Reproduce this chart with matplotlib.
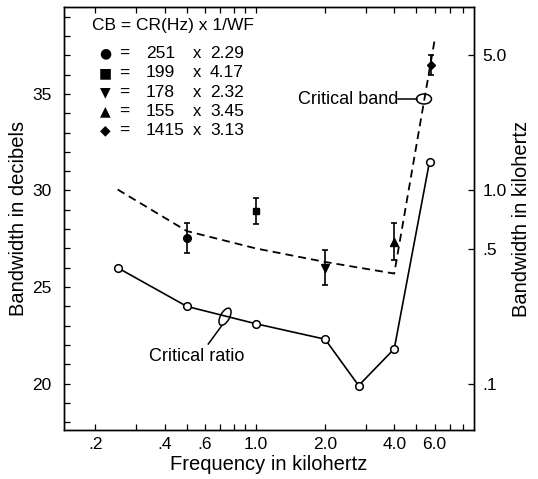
import matplotlib
matplotlib.use("Agg")
import matplotlib.pyplot as plt
from matplotlib.patches import Ellipse
from matplotlib.ticker import FixedLocator, NullFormatter, NullLocator

plt.rcParams['font.family'] = ['Liberation Sans', 'DejaVu Sans']

# critical ratio (open circles), dB
cr_freq = [0.25, 0.5, 1.0, 2.0, 2.8, 4.0, 5.7]
cr_db = [26.0, 24.0, 23.1, 22.3, 19.9, 21.8, 31.5]

# critical band (dashed), dB
cb_freq = [0.25, 0.5, 1.0, 2.0, 4.0, 6.0]
cb_db = [30.05, 27.9, 27.0, 26.3, 25.7, 37.8]

# measured points with error bars
pt_freq = [0.5, 1.0, 2.0, 4.0, 5.8]
pt_db = [27.55, 28.95, 26.0, 27.35, 36.5]
pt_err = [0.78, 0.67, 0.9, 0.95, 0.5]
pt_marker = ['o', 's', 'v', '^', 'D']
pt_size = [5.5, 5, 6, 6, 4.5]

legend_sym = ['\u25cf', '\u25a0', '\u25bc', '\u25b2', '\u25c6']
legend_cr = ['251', '199', '178', '155', '1415']
legend_wf = ['2.29', '4.17', '2.32', '3.45', '3.13']

x_major = [0.2, 0.4, 0.6, 1.0, 2.0, 4.0, 6.0]
x_major_lbl = ['.2', '.4', '.6', '1.0', '2.0', '4.0', '6.0']
x_minor = [0.3, 0.5, 0.7, 0.8, 0.9, 3.0, 5.0, 7.0, 8.0]
khz_ticks = [0.1, 0.5, 1.0, 5.0]
khz_lbl = ['.1', '.5', '1.0', '5.0']

fig = plt.figure(figsize=(5.38, 4.79), dpi=100)
ax = fig.add_axes([64 / 538, 49 / 479, 410 / 538, 423 / 479])

ax.plot(cb_freq, cb_db, color='black', lw=1.3, dashes=(4.4, 2.8))
ax.plot(cr_freq, cr_db, color='black', lw=1.2, marker='o', ms=5.5,
        mfc='white', mec='black', mew=1.1)
for f, d, e, m, s in zip(pt_freq, pt_db, pt_err, pt_marker, pt_size):
    ax.errorbar(f, d, yerr=e, fmt=m, color='black', ms=s, capsize=2.5,
                elinewidth=1.2, capthick=1.2, zorder=4)

ax.set_xscale('log')
ax.set_xlim(0.146, 8.9)
ax.set_ylim(17.6, 39.5)
ax.xaxis.set_major_locator(FixedLocator(x_major))
ax.set_xticklabels(x_major_lbl)
ax.xaxis.set_minor_locator(FixedLocator(x_minor))
ax.xaxis.set_minor_formatter(NullFormatter())
ax.set_yticks([20, 25, 30, 35])
ax.yaxis.set_minor_locator(FixedLocator(range(18, 40)))
ax.tick_params(axis='both', which='both', direction='in', length=4,
               width=0.9, labelsize=12.5, top=True)
ax.tick_params(axis='y', pad=9)
ax.tick_params(axis='x', pad=5)
ax.set_xlabel('Frequency in kilohertz', fontsize=14.5, labelpad=2)
ax.set_ylabel('Bandwidth in decibels', fontsize=14.5, labelpad=3)

# right axis: Hz = 10^(dB/10)
ax2 = ax.twinx()
ax2.set_yscale('log')
lo, hi = ax.get_ylim()
ax2.set_ylim(10 ** (lo / 10) / 1000, 10 ** (hi / 10) / 1000)
ax2.yaxis.set_major_locator(FixedLocator(khz_ticks))
ax2.set_yticklabels(khz_lbl)
ax2.yaxis.set_minor_locator(NullLocator())
ax2.tick_params(axis='y', direction='in', length=4, width=0.9,
                labelsize=12.5, pad=6)
ax2.set_ylabel('Bandwidth in kilohertz', fontsize=14.5, rotation=90, labelpad=4)

for a in (ax, ax2):
    for sp in a.spines.values():
        sp.set_linewidth(1.0)

# formula block
ax.text(0.068, 0.957, 'CB = CR(Hz) x 1/WF', transform=ax.transAxes,
        fontsize=12.5, va='center', ha='left')
row_y = [0.891, 0.844, 0.799, 0.754, 0.709]
for yy, sym, c, w in zip(row_y, legend_sym, legend_cr, legend_wf):
    ax.text(0.1, yy, sym, transform=ax.transAxes, fontsize=10,
            ha='center', va='center', family='DejaVu Sans')
    ax.text(0.146, yy, '=', transform=ax.transAxes, fontsize=12.5,
            ha='center', va='center')
    ax.text(0.2, yy, c, transform=ax.transAxes, fontsize=12.5,
            ha='left', va='center')
    ax.text(0.324, yy, 'x', transform=ax.transAxes, fontsize=12,
            ha='center', va='center')
    ax.text(0.356, yy, w, transform=ax.transAxes, fontsize=12.5,
            ha='left', va='center')

# critical band label
ax.text(0.8146, 0.7825, 'Critical band', transform=ax.transAxes,
        fontsize=13, ha='right', va='center')
ax.plot([0.8146, 0.861], [0.7825, 0.7825], transform=ax.transAxes,
        color='black', lw=1.1)
ax.add_patch(Ellipse((0.878, 0.7825), 0.0366, 0.0236, transform=ax.transAxes,
                     fill=False, ec='black', lw=1.1))

# critical ratio label
ax.add_patch(Ellipse((0.3927, 0.2678), 0.022, 0.045, angle=-30,
                     transform=ax.transAxes, fill=False, ec='black', lw=1.1))
ax.plot([(221.7 - 64) / 410, (208.3 - 64) / 410],
        [(430 - 325.7) / 423, (430 - 344) / 423],
        transform=ax.transAxes, color='black', lw=1.1)
ax.text(0.3237, 0.1726, 'Critical ratio', transform=ax.transAxes,
        fontsize=13, ha='center', va='center')

fig.savefig('out.png', dpi=100)
